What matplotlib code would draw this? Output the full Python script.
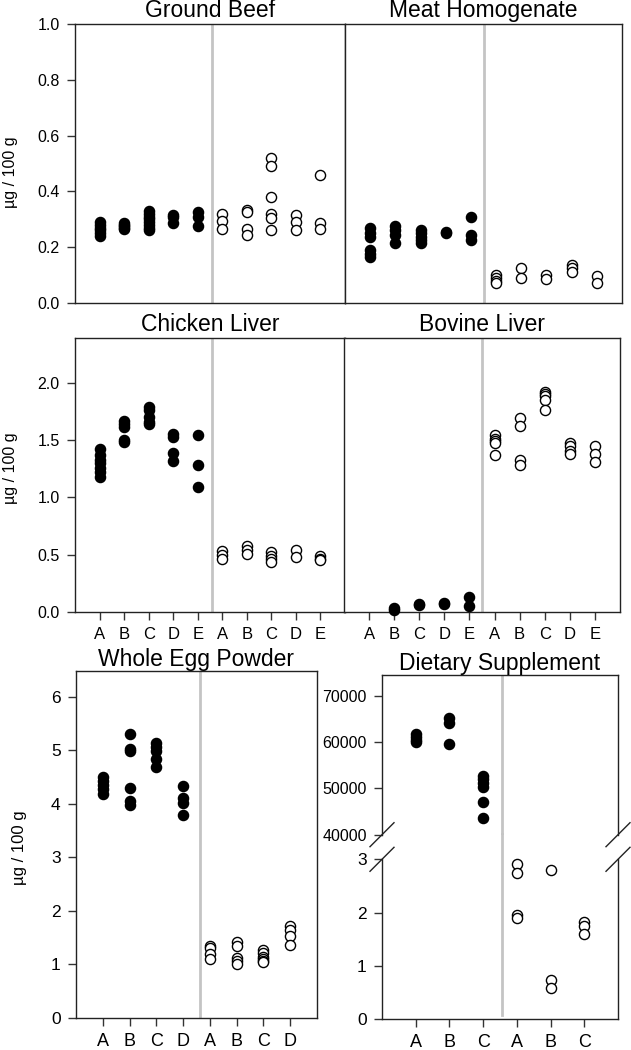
import matplotlib
matplotlib.use('Agg')
import matplotlib.pyplot as plt
from matplotlib.lines import Line2D

plt.rcParams['font.family'] = ['Liberation Sans', 'DejaVu Sans']

# categories
cats5 = ['A', 'B', 'C', 'D', 'E']
cats4 = ['A', 'B', 'C', 'D']
cats3 = ['A', 'B', 'C']

# Ground Beef (filled = first set, open = second set)
beef_filled = [[0.29, 0.28, 0.27, 0.26, 0.25, 0.24],
               [0.285, 0.28, 0.275, 0.27, 0.265],
               [0.33, 0.32, 0.31, 0.30, 0.29, 0.28, 0.27, 0.26],
               [0.315, 0.31, 0.285],
               [0.325, 0.31, 0.275]]
beef_open = [[0.32, 0.295, 0.267],
             [0.335, 0.325, 0.265, 0.245],
             [0.52, 0.49, 0.38, 0.32, 0.305, 0.26],
             [0.315, 0.29, 0.26],
             [0.46, 0.285, 0.265]]

# Meat Homogenate
meat_filled = [[0.27, 0.25, 0.235, 0.19, 0.175, 0.165],
               [0.275, 0.26, 0.245, 0.215],
               [0.26, 0.25, 0.235, 0.225, 0.215],
               [0.255, 0.25],
               [0.31, 0.245, 0.225]]
meat_open = [[0.10, 0.09, 0.08, 0.07],
             [0.125, 0.09],
             [0.10, 0.085],
             [0.135, 0.125, 0.11],
             [0.095, 0.07]]

# Chicken Liver
chick_filled = [[1.42, 1.37, 1.33, 1.30, 1.26, 1.22, 1.18],
                [1.67, 1.64, 1.61, 1.50, 1.48],
                [1.79, 1.76, 1.70, 1.66, 1.64],
                [1.55, 1.53, 1.39, 1.32],
                [1.54, 1.28, 1.09]]
chick_open = [[0.53, 0.50, 0.46],
              [0.58, 0.54, 0.51],
              [0.52, 0.49, 0.46, 0.44],
              [0.54, 0.48],
              [0.485, 0.46, 0.45]]

# Bovine Liver
bov_filled = [[],
              [0.035, 0.02],
              [0.07, 0.065],
              [0.075, 0.07],
              [0.13, 0.055]]
bov_open = [[1.54, 1.51, 1.49, 1.47, 1.37],
            [1.69, 1.62, 1.33, 1.28],
            [1.92, 1.90, 1.88, 1.85, 1.76],
            [1.47, 1.45, 1.40, 1.38],
            [1.45, 1.38, 1.31]]

# Whole Egg Powder
egg_filled = [[4.50, 4.43, 4.35, 4.27, 4.18],
              [5.31, 5.02, 4.99, 4.29, 4.06, 3.98],
              [5.13, 5.06, 4.98, 4.83, 4.68],
              [4.33, 4.10, 4.02, 3.79]]
egg_open = [[1.35, 1.31, 1.20, 1.10],
            [1.42, 1.35, 1.12, 1.06, 1.00],
            [1.27, 1.21, 1.14, 1.10, 1.07, 1.04],
            [1.71, 1.65, 1.53, 1.37]]

# Dietary Supplement
sup_filled = [[61800, 61000, 60500, 60000],
              [65300, 64200, 59600],
              [52700, 52000, 51100, 50200, 47000, 43600]]
sup_open = [[2.92, 2.75, 1.96, 1.90],
            [2.80, 0.73, 0.59],
            [1.82, 1.74, 1.60]]

W, H = 631, 1050
fig = plt.figure(figsize=(W / 100, H / 100), dpi=100)


def box(l, t, r, b):
    return [l / W, 1 - b / H, (r - l) / W, (b - t) / H]


def dots(ax, groups, start, filled):
    for i, vals in enumerate(groups):
        if not vals:
            continue
        ax.plot([start + i] * len(vals), vals, 'o', ms=7.3, mew=1,
                mec='black', mfc='black' if filled else 'white',
                clip_on=False, zorder=3)


def style(ax, ysize=11.5, xsize=12):
    for s in ax.spines.values():
        s.set_color('#222222')
        s.set_linewidth(1)
    ax.tick_params(direction='out', length=6, width=1, color='#333333')
    ax.tick_params(axis='y', labelsize=ysize, pad=5)
    ax.tick_params(axis='x', labelsize=xsize, pad=5)


def panel(rect, title, filled, opened, cats, ylim, yticks, yfmt, div,
          xlabels=True, ylabels=True, tpad=4, ysize=11.5, xsize=12):
    ax = fig.add_axes(box(*rect))
    n = len(filled)
    dots(ax, filled, 1, True)
    dots(ax, opened, n + 1, False)
    ax.axvline(div, color='#c4c4c4', lw=2, zorder=1)
    ax.set_xlim(0, 2 * n + 1)
    ax.set_ylim(*ylim)
    ax.set_yticks(yticks)
    style(ax, ysize, xsize)
    if ylabels:
        ax.set_yticklabels([yfmt.format(v) for v in yticks])
    else:
        ax.tick_params(axis='y', length=0, labelleft=False)
    if xlabels:
        ax.set_xticks(range(1, 2 * n + 1))
        ax.set_xticklabels(cats + cats)
    else:
        ax.set_xticks([])
    ax.set_title(title, fontsize=16.5, pad=tpad)
    return ax


ylab = 'µg / 100 g'

a1 = panel((75, 24, 345, 303), 'Ground Beef', beef_filled, beef_open, cats5,
           (0, 1.0), [0, 0.2, 0.4, 0.6, 0.8, 1.0], '{:.1f}', 5.6,
           xlabels=False, tpad=5)
a1.set_ylabel(ylab, fontsize=11.5)
a1.yaxis.set_label_coords(-0.21, 0.47)
panel((345, 24, 622, 303), 'Meat Homogenate', meat_filled, meat_open, cats5,
      (0, 1.0), [0, 0.2, 0.4, 0.6, 0.8, 1.0], '{:.1f}', 5.5,
      xlabels=False, ylabels=False, tpad=5)

a3 = panel((75, 338, 345, 612), 'Chicken Liver', chick_filled, chick_open, cats5,
           (0, 2.39), [0, 0.5, 1.0, 1.5, 2.0], '{:.1f}', 5.6, tpad=5)
a3.set_ylabel(ylab, fontsize=11.5)
a3.yaxis.set_label_coords(-0.21, 0.525)
panel((344, 338, 620, 612), 'Bovine Liver', bov_filled, bov_open, cats5,
      (0, 2.39), [0, 0.5, 1.0, 1.5, 2.0], '{:.1f}', 5.5,
      ylabels=False, tpad=5)

a5 = panel((76, 671, 317, 1018), 'Whole Egg Powder', egg_filled, egg_open, cats4,
           (0, 6.48), [0, 1, 2, 3, 4, 5, 6], '{:d}', 4.62, tpad=2,
           ysize=12.5, xsize=13)
a5.set_ylabel(ylab, fontsize=12)
a5.yaxis.set_label_coords(-0.205, 0.49)

# Dietary Supplement: broken y axis
L, R = 382, 618
up = fig.add_axes(box(L, 675, R, 834.7))
lo = fig.add_axes(box(L, 859.3, R, 1019))
n = len(sup_filled)
dots(up, sup_filled, 1, True)
dots(lo, sup_open, n + 1, False)
for ax in (up, lo):
    ax.set_xlim(0, 2 * n + 1)
    style(ax, 11.5, 13)
up.set_ylim(40000, 74500)
up.set_yticks([40000, 50000, 60000, 70000])
up.set_xticks([])
up.spines['bottom'].set_visible(False)
lo.set_ylim(0, 2.98)
lo.set_yticks([0, 1, 2, 3])
lo.set_yticklabels(['0', '1', '2', '3'])
lo.tick_params(axis='y', labelsize=12.5)
lo.spines['top'].set_visible(False)
lo.set_xticks(range(1, 2 * n + 1))
lo.set_xticklabels(cats3 + cats3)
up.axvline(3.57, color='#c4c4c4', lw=2, zorder=1)
lo.axvline(3.57, ymin=0.025, ymax=1.16, color='#c4c4c4', lw=2, zorder=1,
           clip_on=False)
up.set_title('Dietary Supplement', fontsize=16.5, pad=2)

# break marks
for xp in (L, R):
    for yp in (834.7, 859.3):
        fig.add_artist(Line2D([(xp - 12) / W, (xp + 12) / W],
                              [1 - (yp + 12) / H, 1 - (yp - 12) / H],
                              color='#222222', lw=1))

fig.savefig('out.png', dpi=100)
